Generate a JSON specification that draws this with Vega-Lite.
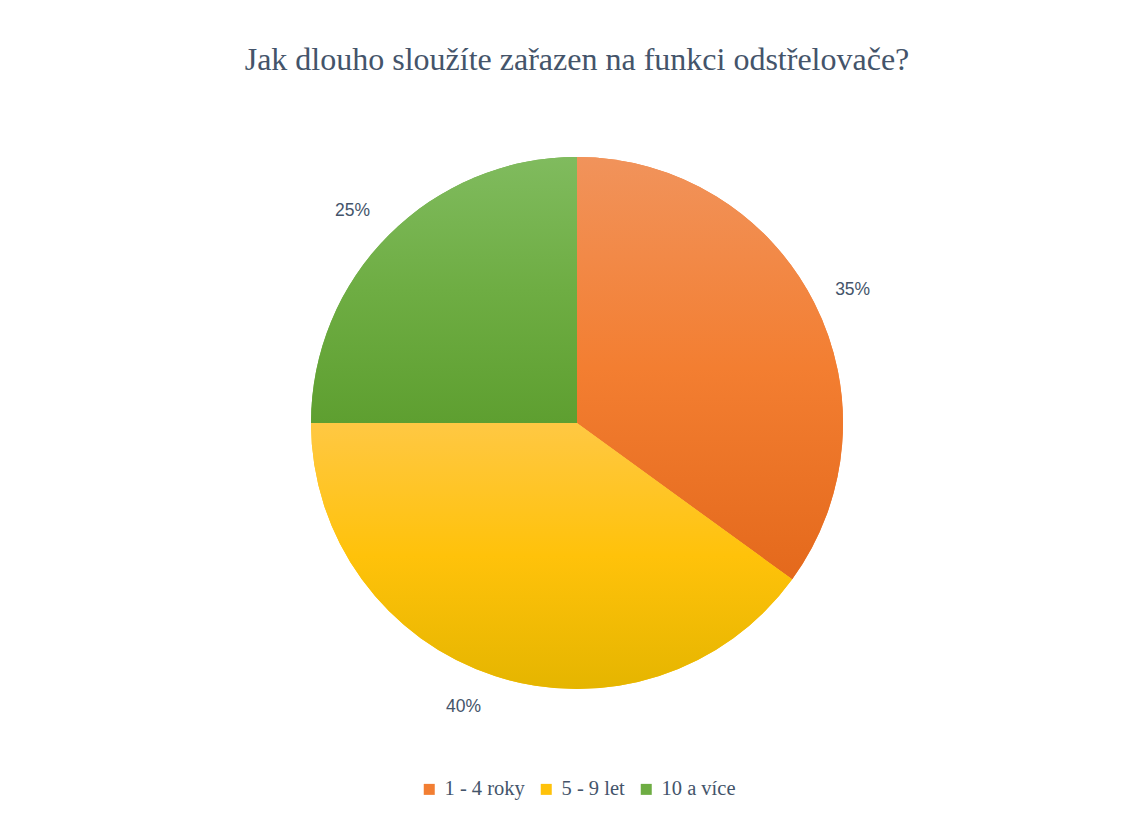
{
  "$schema": "https://vega.github.io/schema/vega-lite/v6.json",
  "width": 1112,
  "height": 532,
  "autosize": {"type": "none"},
  "padding": {"left": 21, "top": 157, "right": 0, "bottom": 136},
  "background": "white",
  "config": {"legend": {"layout": {"bottom": {"anchor": "middle"}}}},
  "title": {
    "text": "Jak dlouho sloužíte zařazen na funkci odstřelovače?",
    "font": "Liberation Serif",
    "fontSize": 32,
    "fontWeight": "normal",
    "color": "#44546A",
    "anchor": "middle",
    "offset": 80
  },
  "data": {
    "values": [
      {"kat": "1 - 4 roky", "value": 35, "order": 1, "label": "35%"},
      {"kat": "5 - 9 let", "value": 40, "order": 2, "label": "40%"},
      {"kat": "10 a více", "value": 25, "order": 3, "label": "25%"}
    ]
  },
  "transform": [
    {"stack": "value", "groupby": [], "sort": [{"field": "order", "order": "ascending"}], "as": ["v0", "v1"]}
  ],
  "layer": [
    {
      "mark": {"type": "arc", "stroke": null},
      "encoding": {
        "theta": {"field": "v0", "type": "quantitative", "scale": {"domain": [0, 100]}},
        "theta2": {"field": "v1"},
        "color": {
          "field": "kat",
          "type": "nominal",
          "sort": ["1 - 4 roky", "5 - 9 let", "10 a více"],
          "scale": {"domain": ["1 - 4 roky", "5 - 9 let", "10 a více"], "range": ["#F27E32", "#FFC20A", "#6EAD43"]},
          "legend": {
            "title": null,
            "orient": "bottom",
            "direction": "horizontal",
            "symbolType": "square",
            "symbolSize": 121,
            "symbolStrokeWidth": 0,
            "labelFont": "Liberation Serif",
            "labelFontSize": 20.5,
            "labelColor": "#44546A",
            "labelOffset": 5,
            "columnPadding": 11,
            "offset": 90
          }
        }
      }
    },
    {
      "mark": {"type": "arc", "stroke": null},
      "encoding": {
        "theta": {"field": "v0", "type": "quantitative", "scale": {"domain": [0, 100]}},
        "theta2": {"field": "v1"},
        "fill": {
          "condition": [
            {"test": "datum.kat === '1 - 4 roky'", "value": {"gradient": "linear", "x1": 0, "y1": 0, "x2": 0, "y2": 1, "stops": [{"offset": 0, "color": "#F1935B"}, {"offset": 0.5, "color": "#F37E31"}, {"offset": 1, "color": "#E4691C"}]}},
            {"test": "datum.kat === '5 - 9 let'", "value": {"gradient": "linear", "x1": 0, "y1": 0, "x2": 0, "y2": 1, "stops": [{"offset": 0, "color": "#FFC843"}, {"offset": 0.5, "color": "#FFC20A"}, {"offset": 1, "color": "#E5B500"}]}}
          ],
          "value": {"gradient": "linear", "x1": 0, "y1": 0, "x2": 0, "y2": 1, "stops": [{"offset": 0, "color": "#80BB5E"}, {"offset": 0.5, "color": "#6EAD43"}, {"offset": 1, "color": "#5E9F30"}]}
        }
      }
    },
    {
      "mark": {
        "type": "text",
        "radius": 306,
        "font": "Liberation Sans",
        "fontSize": 17.5,
        "color": "#44546A",
        "dx": {"expr": "datum.kat === '10 a více' ? -8 : (datum.kat === '5 - 9 let' ? -19 : 3)"},
        "dy": {"expr": "datum.kat === '10 a více' ? 4 : (datum.kat === '5 - 9 let' ? -7 : 6)"}
      },
      "encoding": {
        "theta": {"field": "value", "type": "quantitative", "stack": true, "scale": {"domain": [0, 100]}},
        "order": {"field": "order", "type": "quantitative"},
        "text": {"field": "label", "type": "nominal"}
      }
    }
  ]
}
